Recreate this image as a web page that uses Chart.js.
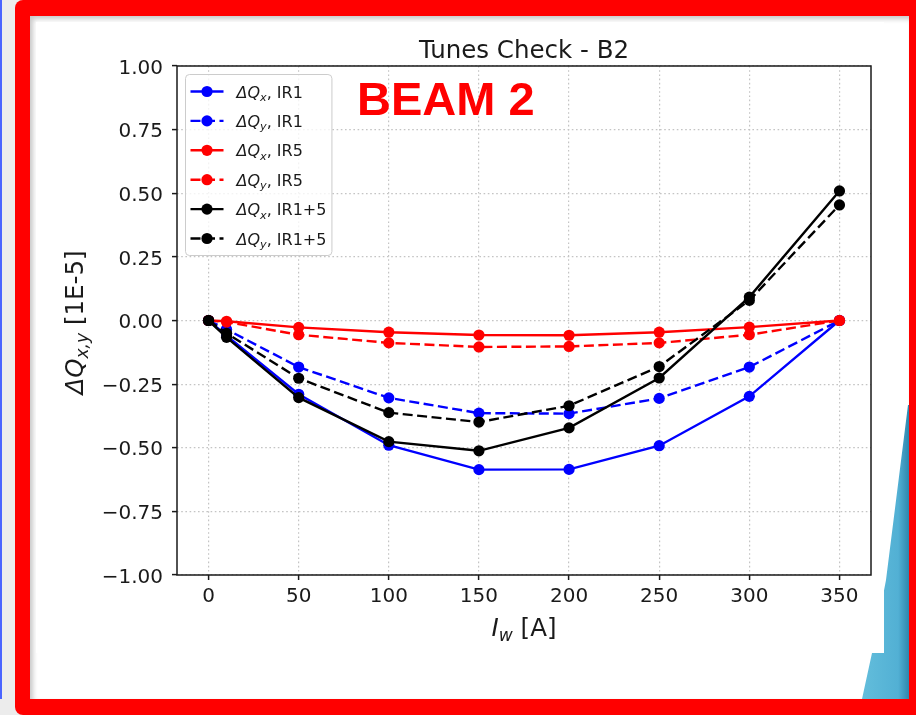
<!DOCTYPE html>
<html>
<head>
<meta charset="utf-8">
<script src="https://cdn.jsdelivr.net/npm/chart.js@4/dist/chart.umd.min.js"></script>
<style>
  html, body { margin: 0; padding: 0; }
  body { width: 916px; height: 715px; position: relative; overflow: hidden; background: #ececec; }
  #edge { position: absolute; left: 0; top: 0; width: 2px; height: 699px; background: #4a64ff; }
  #frame { position: absolute; left: 15px; top: 0; width: 915px; height: 715px; background: #ff0000; border-radius: 8px; }
  #slide { position: absolute; left: 30px; top: 16px; width: 879px; height: 683px; background: #ffffff;
           box-shadow: inset 3px 3px 5px rgba(0,0,0,0.22); }
  #wedge { position: absolute; left: 855px; top: 400px; width: 54px; height: 299px;
           background: linear-gradient(to right, #66c0dd 0%, #52b0d4 80%, #2f86ad 100%);
           clip-path: polygon(53px 5px, 54px 5px, 54px 299px, 7px 299px, 17px 253px, 31px 180px); }
  #figure { position: absolute; left: 36px; top: 22px; width: 848px; height: 631px; background: #ffffff; }
  #plot { position: absolute; left: 0; top: 0; }
  #banner { position: absolute; left: 357px; top: 75px; font: bold 47px "Liberation Sans", Arial, sans-serif;
            line-height: 47px; color: #ff0000; white-space: nowrap; }
</style>
</head>
<body>
<div id="edge"></div>
<div id="frame"></div>
<div id="slide"></div>
<div id="wedge"></div>
<div id="figure"></div>
<canvas id="plot" width="916" height="715"></canvas>
<div id="banner"></div>
<script>
// Wire current scan and the measured tune shifts (units of 1E-5)
const currentA = [0, 10, 50, 100, 150, 200, 250, 300, 350];
const dQxIR1  = [0, -0.060, -0.290, -0.490, -0.586, -0.585, -0.492, -0.298, 0];
const dQyIR1  = [0, -0.035, -0.183, -0.304, -0.364, -0.366, -0.306, -0.183, 0];
const dQxIR5  = [0, -0.003, -0.027, -0.046, -0.057, -0.058, -0.046, -0.026, 0];
const dQyIR5  = [0, -0.006, -0.056, -0.088, -0.104, -0.102, -0.088, -0.056, 0];
const dQxIR15 = [0, -0.066, -0.303, -0.476, -0.512, -0.422, -0.226, 0.092, 0.509];
const dQyIR15 = [0, -0.050, -0.227, -0.362, -0.399, -0.335, -0.181, 0.079, 0.454];

const seriesLabels = ['ΔQ_x, IR1', 'ΔQ_y, IR1', 'ΔQ_x, IR5', 'ΔQ_y, IR5', 'ΔQ_x, IR1+5', 'ΔQ_y, IR1+5'];
const seriesValues = [dQxIR1, dQyIR1, dQxIR5, dQyIR5, dQxIR15, dQyIR15];

const xTickValues = [0, 50, 100, 150, 200, 250, 300, 350];
const yTickValues = [-1, -0.75, -0.5, -0.25, 0, 0.25, 0.5, 0.75, 1];

const chartTitle = 'Tunes Check - B2';
const xAxisTitle = 'I_w [A]';
const yAxisTitle = 'ΔQ_{x,y} [1E-5]';
const bannerText = 'BEAM 2';

document.getElementById('banner').textContent = bannerText;

const FONT = '"DejaVu Sans", "Noto Sans", sans-serif';
const INK = '#1a1a1a';
const lineColor = ['#0000ff', '#0000ff', '#ff0000', '#ff0000', '#000000', '#000000'];
const DASH = [10, 4.5];

// "AB_c rest" / "AB_{c,d} rest" -> italic math part, italic subscript, upright rest
function parseRich(str) {
  const m = str.match(/^([^_]*)_(\{[^}]*\}|.)(.*)$/);
  if (!m) return [{ t: str, it: false, sub: false }];
  return [
    { t: m[1], it: true, sub: false },
    { t: m[2].replace(/[{}]/g, ''), it: true, sub: true },
    { t: m[3], it: false, sub: false }
  ];
}
function partFont(p, size) {
  const s = p.sub ? size * 0.7 : size;
  return (p.it ? 'italic ' : '') + s + 'px ' + FONT;
}
function richWidth(ctx, parts, size) {
  let w = 0;
  for (const p of parts) { ctx.font = partFont(p, size); w += ctx.measureText(p.t).width; }
  return w;
}
function drawRich(ctx, parts, x, y, size, align) {
  const w = richWidth(ctx, parts, size);
  let cx = align === 'center' ? x - w / 2 : x;
  ctx.textAlign = 'left';
  ctx.textBaseline = 'alphabetic';
  for (const p of parts) {
    ctx.font = partFont(p, size);
    ctx.fillText(p.t, cx, y + (p.sub ? size * 0.22 : 0));
    cx += ctx.measureText(p.t).width;
  }
}

const datasets = seriesValues.map((vals, i) => ({
  label: seriesLabels[i],
  data: currentA.map((x, k) => ({ x: x, y: vals[k] })),
  borderColor: lineColor[i],
  backgroundColor: lineColor[i],
  pointBackgroundColor: lineColor[i],
  pointBorderColor: lineColor[i],
  borderWidth: 2.4,
  borderDash: i % 2 === 1 ? DASH : [],
  pointRadius: 5.6,
  pointBorderWidth: 0,
  pointHoverRadius: 5.6,
  tension: 0,
  fill: false,
  order: seriesValues.length - 1 - i
}));

// Axes frame, legend box and texts drawn over the plot
const decor = {
  id: 'decor',
  afterDatasetsDraw(chart) {
    const ctx = chart.ctx;
    const a = chart.chartArea;
    ctx.save();
    // legend
    const fs = 16;
    const parts = chart.data.datasets.map(d => parseRich(d.label));
    const maxW = Math.max(...parts.map(p => richWidth(ctx, p, fs)));
    const lx = a.left + 8, ly = a.top + 8;
    const handleX = lx + 5.5, handleLen = 33, textX = handleX + handleLen + 13;
    const rowH = 29.4, firstRow = 17.5;
    const lw = textX + maxW + 5 - lx;
    const lh = firstRow * 2 + rowH * (parts.length - 1) - 1;
    ctx.beginPath();
    ctx.roundRect(lx + 0.5, ly + 0.5, lw, lh, 4);
    ctx.fillStyle = 'rgba(255,255,255,0.8)';
    ctx.fill();
    ctx.strokeStyle = '#cccccc';
    ctx.lineWidth = 1;
    ctx.stroke();
    chart.data.datasets.forEach((d, i) => {
      const cy = ly + firstRow + i * rowH;
      ctx.strokeStyle = d.borderColor;
      ctx.lineWidth = d.borderWidth;
      ctx.setLineDash(d.borderDash || []);
      ctx.beginPath();
      ctx.moveTo(handleX, cy);
      ctx.lineTo(handleX + handleLen, cy);
      ctx.stroke();
      ctx.setLineDash([]);
      ctx.fillStyle = d.pointBackgroundColor;
      ctx.beginPath();
      ctx.arc(handleX + handleLen / 2, cy, d.pointRadius, 0, Math.PI * 2);
      ctx.fill();
      ctx.fillStyle = INK;
      drawRich(ctx, parts[i], textX, cy + 6, fs, 'left');
    });
    // spines
    ctx.strokeStyle = INK;
    ctx.lineWidth = 1.5;
    ctx.strokeRect(a.left, a.top, a.right - a.left, a.bottom - a.top);
    ctx.restore();
  },
  afterDraw(chart) {
    const ctx = chart.ctx;
    const a = chart.chartArea;
    const cx = (a.left + a.right) / 2;
    ctx.save();
    ctx.fillStyle = INK;
    ctx.font = '24.5px ' + FONT;
    ctx.textAlign = 'center';
    ctx.textBaseline = 'alphabetic';
    ctx.fillText(chartTitle, cx, a.top - 8.5);
    drawRich(ctx, parseRich(xAxisTitle), cx, a.bottom + 61, 24.5, 'center');
    ctx.translate(83, (a.top + a.bottom) / 2 + 2);
    ctx.rotate(-Math.PI / 2);
    drawRich(ctx, parseRich(yAxisTitle), 0, 0, 24.5, 'center');
    ctx.restore();
  }
};

new Chart(document.getElementById('plot'), {
  type: 'line',
  data: { datasets: datasets },
  plugins: [decor],
  options: {
    responsive: false,
    animation: false,
    events: [],
    layout: { padding: { left: 0, top: 66, right: 45, bottom: 0 } },
    plugins: { legend: { display: false }, title: { display: false }, tooltip: { enabled: false } },
    scales: {
      x: {
        type: 'linear',
        min: -17.5,
        max: 367.5,
        afterBuildTicks: s => { s.ticks = xTickValues.map(v => ({ value: v })); },
        afterFit: s => { s.height = 140; },
        ticks: { color: INK, font: { family: FONT, size: 20 }, padding: 5, maxRotation: 0, callback: v => String(v) },
        grid: { color: '#c4c4c4', lineWidth: 1.2, tickColor: INK, tickWidth: 1.5, tickLength: 5, drawTicks: true },
        border: { display: false, dash: [1.6, 2.6] }
      },
      y: {
        type: 'linear',
        min: -1,
        max: 1,
        afterBuildTicks: s => { s.ticks = yTickValues.map(v => ({ value: v })); },
        afterFit: s => { s.width = 177; },
        ticks: { color: INK, font: { family: FONT, size: 20 }, padding: 9, labelOffset: 2.5,
                 callback: v => v.toFixed(2).replace('-', '\u2212') },
        grid: { color: '#c4c4c4', lineWidth: 1.2, tickColor: INK, tickWidth: 1.5, tickLength: 5, drawTicks: true },
        border: { display: false, dash: [1.6, 2.6] }
      }
    }
  }
});
</script>
</body>
</html>
